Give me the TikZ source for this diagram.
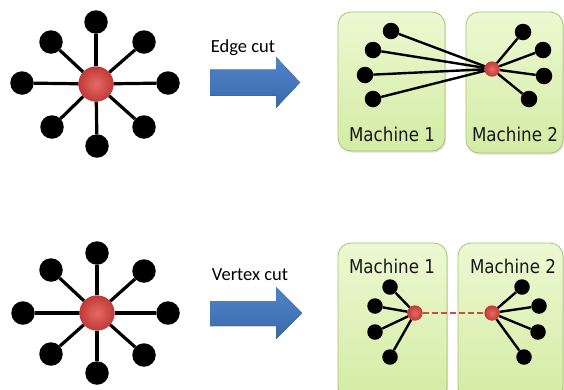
\documentclass[tikz,border=0pt]{standalone}
\usepackage{fontspec}
\newfontfamily\lblfont{Carlito}
\newfontfamily\machfont[FakeStretch=0.88]{DejaVu Sans}
\usetikzlibrary{shadows}
\definecolor{boxtop}{HTML}{EDF8D2}
\definecolor{boxbot}{HTML}{D3ECA4}
\definecolor{boxline}{HTML}{A4C478}
\definecolor{arrowblue}{HTML}{4F84C9}
\definecolor{arrowdark}{HTML}{3B69AA}
\definecolor{redin}{HTML}{E66A66}
\definecolor{redout}{HTML}{C03A38}
\tikzset{
  blk/.style={circle,fill=black,inner sep=0pt,minimum size=#1},
  red/.style={circle,inner sep=0pt,minimum size=#1,shading=radial,inner color=redin,outer color=redout},
  spoke/.style={line width=3.2pt,black},
  thin spoke/.style={line width=2.4pt,black},
  machbox/.style={rounded corners=13pt,draw=boxline,line width=0.8pt,top color=boxtop,bottom color=boxbot,
     drop shadow={shadow xshift=1pt,shadow yshift=-1.5pt,opacity=0.25}},
  machlbl/.style={font=\machfont\fontsize{19}{22}\selectfont,inner sep=0pt,text=black!90},
  cutlbl/.style={font=\lblfont\fontsize{18.5}{22}\selectfont,inner sep=0pt},
  bigarrow/.style={top color=arrowblue,bottom color=arrowdark,draw=none},
  cutline/.style={line width=2.5pt,draw=redout!90!white,dash pattern=on 6pt off 3pt}
}
\begin{document}
\begin{tikzpicture}[x=1pt,y=-1pt]
\clip (0,0) rectangle (564,389);
\fill[white] (0,0) rectangle (564,389);

% ---------- top star ----------
\node[red=35pt] (c1) at (96,84) {};
\foreach \n/\p in {a/{(96,22)},b/{(51,42)},c/{(144,42)},d/{(22,83)},e/{(168,83)},f/{(52,127)},g/{(97,146)},h/{(144,127)}}{
  \node[blk=23.5pt] (t\n) at \p {};
  \draw[spoke] (c1) -- (t\n);
}
\node[red=35pt] at (c1) {};

% ---------- bottom star ----------
\node[red=35pt] (c2) at (97,313) {};
\foreach \n/\p in {a/{(97,253)},b/{(51,270)},c/{(144,271)},d/{(23,313)},e/{(168,313)},f/{(51,354)},g/{(97,373)},h/{(144,355)}}{
  \node[blk=23.5pt] (s\n) at \p {};
  \draw[spoke] (c2) -- (s\n);
}
\node[red=35pt] at (c2) {};

% ---------- arrows ----------
\fill[bigarrow] (210,69.5) -- (276,69.5) -- (276,57) -- (300,82.5) -- (276,108) -- (276,95.5) -- (210,95.5) -- cycle;
\node[cutlbl] (ecut) at (243,48) {Edge cut};
\fill[bigarrow] (210,301) -- (276,301) -- (276,287) -- (302,313) -- (276,339) -- (276,326) -- (210,326) -- cycle;
\node[cutlbl] (vcut) at (250,275) {Vertex cut};

% ---------- edge cut machines ----------
\path[machbox] (338,12) rectangle (445,151);
\path[machbox] (466,12) rectangle (563,153);
\node[machlbl] (m1a) at (392,134) {Machine 1};
\node[machlbl] (m2a) at (515,134) {Machine 2};
\node[red=15pt] (r1) at (492,69) {};
\foreach \n/\p in {a/{(391,31)},b/{(373,50)},c/{(365,75)},d/{(373,99)},e/{(523,32)},f/{(543,50)},g/{(544,76)},h/{(529,99)}}{
  \node[blk=16.5pt] (u\n) at \p {};
  \draw[thin spoke] (r1) -- (u\n);
}
\node[red=15pt] at (r1) {};

% ---------- vertex cut machines ----------
\path[machbox] (338,243) rectangle (447,400);
\path[machbox] (458,243) rectangle (563,400);
\node[machlbl] (m1b) at (392,266.5) {Machine 1};
\node[machlbl] (m2b) at (513,266.5) {Machine 2};
\node[red=15pt] (r2) at (415,313) {};
\node[red=15pt] (r3) at (492,313) {};
\foreach \n/\p in {a/{(390,287)},b/{(375,306)},c/{(375,332)},d/{(390,357)}}{
  \node[blk=15.5pt] (v\n) at \p {};
  \draw[thin spoke] (r2) -- (v\n);
}
\foreach \n/\p in {a/{(522,287)},b/{(539,306)},c/{(538,332)},d/{(524,357)}}{
  \node[blk=15.5pt] (w\n) at \p {};
  \draw[thin spoke] (r3) -- (w\n);
}
\draw[cutline] (r2) -- (r3);
\node[red=15pt] at (r2) {};
\node[red=15pt] at (r3) {};
\end{tikzpicture}
\end{document}
